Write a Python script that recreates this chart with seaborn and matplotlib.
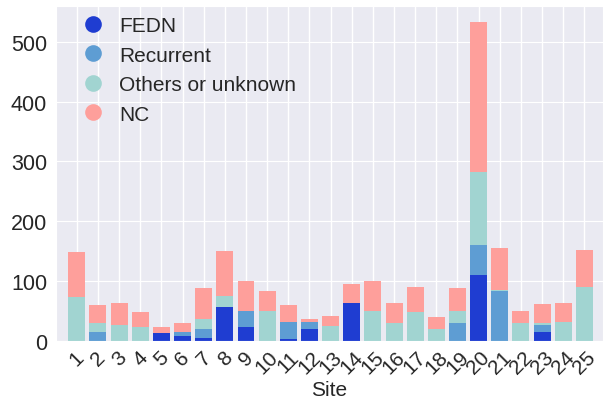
import numpy as np
import pandas as pd
import seaborn as sns
import matplotlib
matplotlib.use("Agg")
import matplotlib.pyplot as plt
from matplotlib.lines import Line2D

sites = [str(i) for i in range(1, 26)]
fedn = [0, 0, 0, 0, 13, 8, 6, 57, 23, 0, 4, 20, 0, 64, 0, 0, 0, 0, 0, 111, 0, 0, 15, 0, 0]
recurrent = [0, 16, 0, 0, 0, 8, 15, 0, 27, 0, 28, 12, 0, 0, 0, 0, 0, 0, 31, 49, 83, 0, 12, 0, 0]
others = [74, 14, 27, 24, 0, 0, 16, 18, 0, 50, 0, 0, 25, 0, 50, 31, 48, 21, 20, 122, 3, 31, 4, 32, 90]
nc = [74, 30, 37, 24, 11, 14, 51, 75, 50, 33, 29, 5, 17, 32, 50, 32, 43, 20, 37, 251, 70, 19, 31, 32, 62]

labels = ["FEDN", "Recurrent", "Others or unknown", "NC"]
colors = ["#1f3dd1", "#5e9dd3", "#a1d4d1", "#fe9f9b"]

sns.set_style("darkgrid")
plt.rcParams["font.family"] = ["Liberation Sans", "DejaVu Sans"]

df = pd.DataFrame({"Site": sites, "FEDN": fedn, "Recurrent": recurrent,
                   "Others or unknown": others, "NC": nc})
# cumulative heights so each layer sits on top of the previous ones
cum = df[labels].cumsum(axis=1)

fig, ax = plt.subplots(figsize=(6.03, 4.02), dpi=100)
for lab, col in reversed(list(zip(labels, colors))):
    sns.barplot(x=df["Site"], y=cum[lab], color=col, width=0.8,
                saturation=1, linewidth=0, ax=ax, zorder=2)

# seaborn switches off the grid on the categorical axis; the reference has it
ax.set_axisbelow(True)
ax.xaxis.grid(True, color="white", linewidth=1)

handles = [Line2D([0], [0], marker="o", linestyle="", markersize=12,
                  markerfacecolor=c, markeredgecolor="none") for c in colors]
ax.legend(handles, labels, loc="upper left", frameon=False, fontsize=15,
          handletextpad=0.25, labelspacing=0.5, borderaxespad=0.1,
          bbox_to_anchor=(0.01, 1.0))

ax.set_xlim(-0.98, 24.88)
ax.set_ylim(0, 560)
ax.set_yticks([0, 100, 200, 300, 400, 500])
ax.set_xlabel("Site", fontsize=15, labelpad=2)
ax.set_ylabel("")
ax.tick_params(axis="y", labelsize=15.5, pad=3)
ax.tick_params(axis="x", labelsize=15, pad=1)
plt.setp(ax.get_xticklabels(), rotation=45, ha="center")

fig.subplots_adjust(left=0.093, right=1.0, top=0.983, bottom=0.149)
fig.savefig("out.png", dpi=100)
